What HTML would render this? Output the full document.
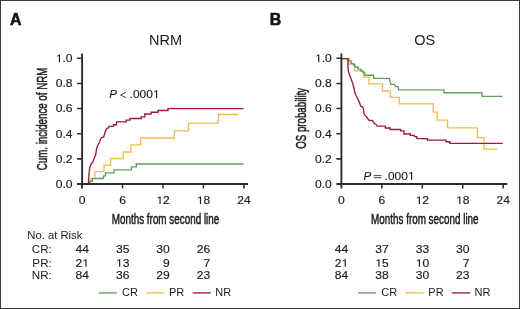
<!DOCTYPE html>
<html><head><meta charset="utf-8">
<style>
html,body{margin:0;padding:0;background:#fff;}
body{width:520px;height:309px;overflow:hidden;}
svg{display:block;will-change:transform;}
text{font-family:"Liberation Sans",sans-serif;fill:#1a1a1a;}
.dg,.tb{font-size:11px;}
.dg{stroke:#1a1a1a;stroke-width:0.15px;}
.dg1{fill:#1a1a1a;}
.lt{font-size:15.9px;font-weight:bold;fill:#111;stroke:#111;stroke-width:0.6px;}
.ti{font-size:14.5px;}
.cd{font-size:14.5px;stroke:#1a1a1a;stroke-width:0.5px;}
.pv{font-size:11.5px;stroke:#1a1a1a;stroke-width:0.12px;}
.sym{stroke:#333;stroke-width:0.9;fill:none;}
.ax{stroke:#2e2e2e;stroke-width:1.9;fill:none;}
.tk{stroke-width:1.55;}
.cr{stroke:#5e9e5e;stroke-width:1.35;fill:none;}
.pr{stroke:#efbf4e;stroke-width:1.35;fill:none;}
.nr{stroke:#9c1a3e;stroke-width:1.35;fill:none;}
</style></head>
<body>
<svg width="520" height="309" viewBox="0 0 520 309">
<defs><path id="one" d="M540,0L540,1215L225,1000L225,1165L565,1409L735,1409L735,0Z"/></defs>
<rect x="0.5" y="0.5" width="519" height="308" fill="#fff" stroke="#3d3d3d" stroke-width="1"/>
<text x="9.90" y="24.8" class="lt">A</text>
<text x="165.50" y="45.3" text-anchor="middle" class="ti">NRM</text>
<g transform="translate(0,0.35)"><path class="pr" d="M82.1,184H90.6V178.2H95V171.2H104V164.7H110.5V158.1H123.3V151.6H131V144.5H140.6V137.6H174.4V130.5H188.5V122.8H218.3V114.2H238.5"/>
<path class="cr" d="M82.1,184H89.8V181H92.4V178.1H103.5V175.5H105.5V172.5H114V169.5H131.5V166.5H136.3V163.65H243.4"/>
<path class="nr" d="M82.1,184H88.3L88.4,183.2L88.7,178.3L89,173.4L89.6,168.6L90.6,164.7L91.8,162.8L93.2,160.8L94.2,157.9L95.6,155L96.4,149.3L97.3,145.9L99.3,142.5L100.3,139.1L101.7,137.1L103.6,136.7L104.6,133.7L105.6,129.9L107,127.9L108.9,127.4V126H113.5V124.4H116.5V121.5H126.1V119.8H130V118.1H141.3V116.5H144.8V113.6H151.1V111.9H158.1V110.2H168V108.3H243.5"/></g>
<path class="ax" d="M82.10,53.5V188.5M77.10,184.0H248.10"/>
<path class="ax tk" d="M77.10,158.85H82.10M77.10,133.70H82.10M77.10,108.55H82.10M77.10,83.40H82.10M77.10,58.25H82.10M122.55,184.0V188.6M163.00,184.0V188.6M203.45,184.0V188.6M243.90,184.0V188.6"/>
<text transform="translate(72.50,187.90) scale(1.1,1)" text-anchor="end" class="dg">0.0</text>
<text transform="translate(72.50,162.75) scale(1.1,1)" text-anchor="end" class="dg">0.2</text>
<text transform="translate(72.50,137.60) scale(1.1,1)" text-anchor="end" class="dg">0.4</text>
<text transform="translate(72.50,112.45) scale(1.1,1)" text-anchor="end" class="dg">0.6</text>
<text transform="translate(72.50,87.30) scale(1.1,1)" text-anchor="end" class="dg">0.8</text>
<text transform="translate(72.50,62.15) scale(1.1,1)" text-anchor="end" class="dg"> .0</text><use href="#one" class="dg1" transform="translate(72.50,62.15) scale(1.1,1) translate(-15.292,0) scale(0.005371,-0.005371)"/>
<text transform="translate(82.10,204.00) scale(1.1,1)" text-anchor="middle" class="dg">0</text>
<text transform="translate(122.55,204.00) scale(1.1,1)" text-anchor="middle" class="dg">6</text>
<text transform="translate(163.00,204.00) scale(1.1,1)" text-anchor="middle" class="dg"> 2</text><use href="#one" class="dg1" transform="translate(163.00,204.00) scale(1.1,1) translate(-6.118,0) scale(0.005371,-0.005371)"/>
<text transform="translate(203.45,204.00) scale(1.1,1)" text-anchor="middle" class="dg"> 8</text><use href="#one" class="dg1" transform="translate(203.45,204.00) scale(1.1,1) translate(-6.118,0) scale(0.005371,-0.005371)"/>
<text transform="translate(243.90,204.00) scale(1.1,1)" text-anchor="middle" class="dg">24</text>
<text x="165.50" y="224.2" text-anchor="middle" textLength="107.5" lengthAdjust="spacingAndGlyphs" class="cd">Months from second line</text>
<text transform="translate(47.10,119.00) rotate(-90)" text-anchor="middle" textLength="102.5" lengthAdjust="spacingAndGlyphs" class="cd">Cum. incidence of NRM</text>
<text x="109.2" y="98.2" class="pv" font-style="italic">P</text>
<path class="sym" d="M125.9,92.3L120.6,95L125.9,97.7"/>
<text transform="translate(129.6,98.2) scale(1.04,1)" class="pv">.000 </text><use href="#one" class="dg1" transform="translate(129.60,98.20) scale(1.04,1) translate(22.382,0) scale(0.005615,-0.005615)"/>
<text transform="translate(27.3,238.9) scale(1.025,1)" class="tb">No. at Risk</text>
<text transform="translate(51.8,253.0) scale(1.06,1)" text-anchor="end" class="tb">CR:</text>
<text transform="translate(51.8,266.8) scale(1.06,1)" text-anchor="end" class="tb">PR:</text>
<text transform="translate(51.8,279.2) scale(1.06,1)" text-anchor="end" class="tb">NR:</text>
<text transform="translate(88.90,253.00) scale(1.1,1)" text-anchor="end" class="dg">44</text>
<text transform="translate(129.35,253.00) scale(1.1,1)" text-anchor="end" class="dg">35</text>
<text transform="translate(169.80,253.00) scale(1.1,1)" text-anchor="end" class="dg">30</text>
<text transform="translate(210.25,253.00) scale(1.1,1)" text-anchor="end" class="dg">26</text>
<text transform="translate(88.90,266.80) scale(1.1,1)" text-anchor="end" class="dg">2 </text><use href="#one" class="dg1" transform="translate(88.90,266.80) scale(1.1,1) translate(-6.118,0) scale(0.005371,-0.005371)"/>
<text transform="translate(129.35,266.80) scale(1.1,1)" text-anchor="end" class="dg"> 3</text><use href="#one" class="dg1" transform="translate(129.35,266.80) scale(1.1,1) translate(-12.235,0) scale(0.005371,-0.005371)"/>
<text transform="translate(169.80,266.80) scale(1.1,1)" text-anchor="end" class="dg">9</text>
<text transform="translate(210.25,266.80) scale(1.1,1)" text-anchor="end" class="dg">7</text>
<text transform="translate(88.90,279.20) scale(1.1,1)" text-anchor="end" class="dg">84</text>
<text transform="translate(129.35,279.20) scale(1.1,1)" text-anchor="end" class="dg">36</text>
<text transform="translate(169.80,279.20) scale(1.1,1)" text-anchor="end" class="dg">29</text>
<text transform="translate(210.25,279.20) scale(1.1,1)" text-anchor="end" class="dg">23</text>
<path class="cr" d="M98.80,292.9H116.90"/>
<path class="pr" d="M146.30,292.9H164.60"/>
<path class="nr" d="M192.60,292.9H210.80"/>
<text x="122.00" y="296.2" class="tb">CR</text>
<text x="169.00" y="296.2" class="tb">PR</text>
<text x="215.30" y="296.2" class="tb">NR</text>
<text x="269.70" y="24.8" class="lt">B</text>
<text x="424.80" y="45.3" text-anchor="middle" class="ti">OS</text>
<g transform="translate(0,0.35)"><path class="pr" d="M341.4,58.2H348.8V63.6H354.5V70.5H363.4V76.8H368.9V83.5H382.5V90.6H390.3V97H399.3V103.5H433.3V111.8H437.2V119.8H447.5V127.5H477.4V137.3H484V148.8H497"/>
<path class="cr" d="M341.4,58.2H348.8V60.8H351.2V63.2H353.5V64.7H355V66.6H358V68.8H360.9V70.8H363.3V72.5H364.8V74.9H373.5V78H389.3L389.8,80.5L390.8,83.7V84H394.4L395.7,86.3H397.9L398.9,89.5H444V92.45H482V96.05H502.6"/>
<path class="nr" d="M341.4,58.2H347.9V66L348.4,70.6L349.3,74L350.8,77.8L352.2,81.7L353,84L353.9,87.9L355.3,93.7L357.3,97.6L359.2,101.5L360.7,105.8L362.6,106.5L363.6,109.2L363.9,113.2L365.2,115.1L367.1,117.4L369.1,120H372.3L373.9,122.6L375.9,123.9L377.2,125.8H385.3V127.7H390.1V129.1H400.7V130.5H403.9V133.6H410.4V135H414.4V136.2H416.9V138.2H427.5V139.8H446V141.4H450V143.05H502.7"/></g>
<path class="ax" d="M341.40,53.5V188.5M336.40,184.0H507.40"/>
<path class="ax tk" d="M336.40,158.85H341.40M336.40,133.70H341.40M336.40,108.55H341.40M336.40,83.40H341.40M336.40,58.25H341.40M381.85,184.0V188.6M422.30,184.0V188.6M462.75,184.0V188.6M503.20,184.0V188.6"/>
<text transform="translate(331.80,187.90) scale(1.1,1)" text-anchor="end" class="dg">0.0</text>
<text transform="translate(331.80,162.75) scale(1.1,1)" text-anchor="end" class="dg">0.2</text>
<text transform="translate(331.80,137.60) scale(1.1,1)" text-anchor="end" class="dg">0.4</text>
<text transform="translate(331.80,112.45) scale(1.1,1)" text-anchor="end" class="dg">0.6</text>
<text transform="translate(331.80,87.30) scale(1.1,1)" text-anchor="end" class="dg">0.8</text>
<text transform="translate(331.80,62.15) scale(1.1,1)" text-anchor="end" class="dg"> .0</text><use href="#one" class="dg1" transform="translate(331.80,62.15) scale(1.1,1) translate(-15.292,0) scale(0.005371,-0.005371)"/>
<text transform="translate(341.40,204.00) scale(1.1,1)" text-anchor="middle" class="dg">0</text>
<text transform="translate(381.85,204.00) scale(1.1,1)" text-anchor="middle" class="dg">6</text>
<text transform="translate(422.30,204.00) scale(1.1,1)" text-anchor="middle" class="dg"> 2</text><use href="#one" class="dg1" transform="translate(422.30,204.00) scale(1.1,1) translate(-6.118,0) scale(0.005371,-0.005371)"/>
<text transform="translate(462.75,204.00) scale(1.1,1)" text-anchor="middle" class="dg"> 8</text><use href="#one" class="dg1" transform="translate(462.75,204.00) scale(1.1,1) translate(-6.118,0) scale(0.005371,-0.005371)"/>
<text transform="translate(503.20,204.00) scale(1.1,1)" text-anchor="middle" class="dg">24</text>
<text x="424.80" y="224.2" text-anchor="middle" textLength="107.5" lengthAdjust="spacingAndGlyphs" class="cd">Months from second line</text>
<text transform="translate(306.00,118.30) rotate(-90)" text-anchor="middle" textLength="61" lengthAdjust="spacingAndGlyphs" class="cd">OS probability</text>
<text x="363.4" y="179.8" class="pv" font-style="italic">P</text>
<path class="sym" d="M373.8,175.6H381.5M373.8,177.7H381.5"/>
<text transform="translate(384.6,179.8) scale(1.04,1)" class="pv">.000 </text><use href="#one" class="dg1" transform="translate(384.60,179.80) scale(1.04,1) translate(22.382,0) scale(0.005615,-0.005615)"/>
<text transform="translate(348.20,253.00) scale(1.1,1)" text-anchor="end" class="dg">44</text>
<text transform="translate(388.65,253.00) scale(1.1,1)" text-anchor="end" class="dg">37</text>
<text transform="translate(429.10,253.00) scale(1.1,1)" text-anchor="end" class="dg">33</text>
<text transform="translate(469.55,253.00) scale(1.1,1)" text-anchor="end" class="dg">30</text>
<text transform="translate(348.20,266.80) scale(1.1,1)" text-anchor="end" class="dg">2 </text><use href="#one" class="dg1" transform="translate(348.20,266.80) scale(1.1,1) translate(-6.118,0) scale(0.005371,-0.005371)"/>
<text transform="translate(388.65,266.80) scale(1.1,1)" text-anchor="end" class="dg"> 5</text><use href="#one" class="dg1" transform="translate(388.65,266.80) scale(1.1,1) translate(-12.235,0) scale(0.005371,-0.005371)"/>
<text transform="translate(429.10,266.80) scale(1.1,1)" text-anchor="end" class="dg"> 0</text><use href="#one" class="dg1" transform="translate(429.10,266.80) scale(1.1,1) translate(-12.235,0) scale(0.005371,-0.005371)"/>
<text transform="translate(469.55,266.80) scale(1.1,1)" text-anchor="end" class="dg">7</text>
<text transform="translate(348.20,279.20) scale(1.1,1)" text-anchor="end" class="dg">84</text>
<text transform="translate(388.65,279.20) scale(1.1,1)" text-anchor="end" class="dg">38</text>
<text transform="translate(429.10,279.20) scale(1.1,1)" text-anchor="end" class="dg">30</text>
<text transform="translate(469.55,279.20) scale(1.1,1)" text-anchor="end" class="dg">23</text>
<path class="cr" d="M358.10,292.9H376.20"/>
<path class="pr" d="M405.60,292.9H423.90"/>
<path class="nr" d="M451.90,292.9H470.10"/>
<text x="381.30" y="296.2" class="tb">CR</text>
<text x="428.30" y="296.2" class="tb">PR</text>
<text x="474.60" y="296.2" class="tb">NR</text>
</svg>
</body></html>
